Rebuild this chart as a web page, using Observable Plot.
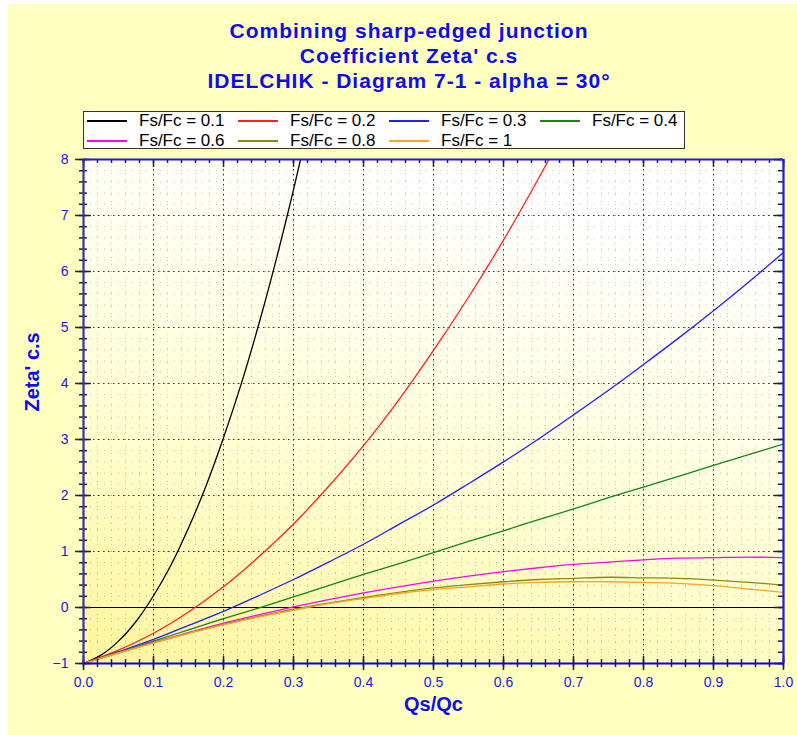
<!DOCTYPE html>
<html>
<head>
<meta charset="utf-8">
<script src="https://cdn.jsdelivr.net/npm/d3@7"></script>
<script src="https://cdn.jsdelivr.net/npm/@observablehq/plot@0.6"></script>
<style>
  body { margin: 0; background: #fff; font-family: "Liberation Sans", Arial, sans-serif; }
  #chart { position: relative; width: 797px; height: 735px; overflow: hidden; }
  #paper { position: absolute; left: 7px; top: 4px; right: 0; bottom: 0; background: #FFFFC0; }
  #plot { position: absolute; left: 0; top: 0; }
  .title { position: absolute; left: 0; width: 818px; text-align: center; font-weight: bold;
           font-size: 21px; letter-spacing: 1px; line-height: 25px; color: #0c0cf4; white-space: nowrap; }
  #legend { position: absolute; left: 83px; top: 111px; width: 600px; height: 36px;
            border: 1.5px solid #333; background: #fff; }
  .item { position: absolute; height: 20px; line-height: 20px; font-size: 17px; color: #000; white-space: nowrap; }
  .item .swatch { position: absolute; left: 0; top: 9px; width: 40px; height: 2px; }
  .item .lab { position: absolute; left: 52px; top: 0; }
</style>
</head>
<body>
<div id="chart">
  <div id="paper"></div>
  <div id="plot"></div>
  <div id="titles"></div>
  <div id="legend"></div>
</div>
<script>
// Idelchik, diagram 7-1: side-branch loss coefficient of a combining junction, alpha = 30°
const titleLines = [
  "Combining sharp-edged junction",
  "Coefficient Zeta' c.s",
  "IDELCHIK - Diagram 7-1 - alpha = 30°"
];
const xLabel = "Qs/Qc";
const yLabel = "Zeta' c.s";

// Flow ratio Qs/Qc at which each curve is sampled
const qs = [0, 0.05, 0.1, 0.15, 0.2, 0.25, 0.3, 0.35, 0.4, 0.45, 0.5,
            0.55, 0.6, 0.65, 0.7, 0.75, 0.8, 0.85, 0.9, 0.95, 1.0];
// finer sampling for the steep Fs/Fc = 0.1 curve
const qsSteep = [0, 0.025, 0.05, 0.075, 0.1, 0.125, 0.15, 0.175, 0.2, 0.225,
                 0.25, 0.275, 0.3, 0.325];

// Zeta' c.s for each area ratio Fs/Fc (steep curves run past the top of the frame)
const zeta01 = [-1, -0.85, -0.60, -0.25, 0.21, 0.76, 1.42, 2.17, 3.03, 3.98,
                5.04, 6.20, 7.46, 8.82];
const zeta02 = [-1, -0.76, -0.46, -0.08, 0.37, 0.90, 1.49, 2.16, 2.89, 3.70, 4.59,
                5.54, 6.56, 7.66, 8.83];
const zeta03 = [-1, -0.79, -0.57, -0.32, -0.07, 0.21, 0.50, 0.81, 1.13, 1.48, 1.83,
                2.21, 2.60, 3.01, 3.44, 3.88, 4.34, 4.81, 5.30, 5.81, 6.34];
const zeta04 = [-1, -0.80, -0.60, -0.40, -0.20, -0.01, 0.19, 0.39, 0.59, 0.78, 0.98,
                1.18, 1.37, 1.57, 1.76, 1.96, 2.15, 2.34, 2.54, 2.73, 2.92];
const zeta06 = [-1, -0.81, -0.62, -0.45, -0.28, -0.13, 0.01, 0.14, 0.26, 0.37, 0.47,
                0.56, 0.64, 0.71, 0.77, 0.81, 0.85, 0.88, 0.89, 0.90, 0.89];
const zeta08 = [-1, -0.81, -0.63, -0.46, -0.30, -0.16, -0.03, 0.08, 0.18, 0.27, 0.35,
                0.41, 0.46, 0.50, 0.52, 0.54, 0.53, 0.52, 0.49, 0.45, 0.40];
const zeta10 = [-1, -0.81, -0.63, -0.46, -0.31, -0.17, -0.05, 0.07, 0.16, 0.25, 0.32,
                0.37, 0.42, 0.45, 0.46, 0.46, 0.45, 0.43, 0.39, 0.33, 0.27];

const ratios = ["Fs/Fc = 0.1", "Fs/Fc = 0.2", "Fs/Fc = 0.3", "Fs/Fc = 0.4",
                "Fs/Fc = 0.6", "Fs/Fc = 0.8", "Fs/Fc = 1"];
const colors = ["#000000", "#ff2020", "#2020ff", "#118811", "#ff00ff", "#8a8a10", "#ffa31a"];
const seriesValues = [zeta01, zeta02, zeta03, zeta04, zeta06, zeta08, zeta10];
const seriesQ = [qsSteep, qs, qs, qs, qs, qs, qs];

// Axis tick values
const xTicks = [0, 0.1, 0.2, 0.3, 0.4, 0.5, 0.6, 0.7, 0.8, 0.9, 1.0];
const yTicks = [-1, 0, 1, 2, 3, 4, 5, 6, 7, 8];
const minorX = d3.range(0, 50 + 1).map(i => i / 50);
const minorY = d3.range(0, 45 + 1).map(i => -1 + i / 5);

// Long-format rows for the line mark
const rows = seriesValues.flatMap((vals, s) =>
  vals.map((v, i) => ({q: seriesQ[s][i], zeta: v, series: ratios[s]})));

// Titles
const titles = document.getElementById("titles");
titleLines.forEach((t, i) => {
  const d = document.createElement("div");
  d.className = "title";
  d.style.top = (18 + i * 25) + "px";
  d.textContent = t;
  titles.appendChild(d);
});

// Legend: 4 columns, 2 rows
const legend = document.getElementById("legend");
ratios.forEach((r, i) => {
  const it = document.createElement("div");
  it.className = "item";
  it.style.left = (3 + (i % 4) * 151) + "px";
  it.style.top = (-1 + Math.floor(i / 4) * 20) + "px";
  it.innerHTML = `<span class="swatch" style="background:${colors[i]}"></span><span class="lab"></span>`;
  it.querySelector(".lab").textContent = r;
  legend.appendChild(it);
});

// Plot-area background gradient
const defs = d3.create("svg:defs");
defs.html(`<linearGradient id="plotBg" x1="0.35" y1="0" x2="0" y2="1">
  <stop offset="0" stop-color="#ffffff"/>
  <stop offset="0.5" stop-color="#ffffd8"/>
  <stop offset="1" stop-color="#fff59c"/>
</linearGradient>`);

const tickColor = "#1e1e3c";
const labelBlue = "#1818f0";

const chart = Plot.plot({
  width: 797,
  height: 735,
  marginLeft: 83,
  marginRight: 14,
  marginTop: 159,
  marginBottom: 72,
  style: {background: "transparent", fontFamily: "Liberation Sans, Arial, sans-serif", overflow: "visible"},
  x: {domain: [0, 1]},
  y: {domain: [-1, 8]},
  color: {domain: ratios, range: colors},
  marks: [
    () => defs.node(),
    Plot.frame({fill: "url(#plotBg)", stroke: "none"}),
    // minor and major dotted grid
    Plot.ruleX(minorX, {stroke: "#8a8a78", strokeDasharray: "1,6", strokeOpacity: 0.5}),
    Plot.ruleY(minorY, {stroke: "#8a8a78", strokeDasharray: "1,6", strokeOpacity: 0.5}),
    Plot.ruleX(xTicks, {stroke: "#333", strokeDasharray: "1.5,3.5"}),
    Plot.ruleY(yTicks, {stroke: "#333", strokeDasharray: "1.5,3.5"}),
    Plot.ruleY([0], {stroke: "#000", strokeWidth: 1.2}),
    // curves
    Plot.line(rows, {x: "q", y: "zeta", z: "series", stroke: "series",
                     curve: "catmull-rom", strokeWidth: 1.3, clip: true}),
    // tick marks: left and bottom cross the axis, right and top point inwards
    Plot.ruleY(yTicks, {x1: 0, x2: 0, insetLeft: -8, insetRight: -8, stroke: tickColor, strokeWidth: 1.5}),
    Plot.ruleY(minorY, {x1: 0, x2: 0, insetLeft: -4, insetRight: -4, stroke: tickColor, strokeWidth: 1.5}),
    Plot.ruleY(yTicks, {x1: 1, x2: 1, insetLeft: -9, insetRight: 0, stroke: tickColor, strokeWidth: 1.5}),
    Plot.ruleY(minorY, {x1: 1, x2: 1, insetLeft: -5, insetRight: 0, stroke: tickColor, strokeWidth: 1.5}),
    Plot.ruleX(xTicks, {y1: -1, y2: -1, insetTop: -7, insetBottom: -7, stroke: tickColor, strokeWidth: 1.5}),
    Plot.ruleX(minorX, {y1: -1, y2: -1, insetTop: -4, insetBottom: -4, stroke: tickColor, strokeWidth: 1.5}),
    Plot.ruleX(xTicks, {y1: 8, y2: 8, insetTop: 0, insetBottom: -8, stroke: tickColor, strokeWidth: 1.5}),
    Plot.ruleX(minorX, {y1: 8, y2: 8, insetTop: 0, insetBottom: -4, stroke: tickColor, strokeWidth: 1.5}),
    // axis lines
    Plot.ruleX([0], {stroke: "#3434a8", strokeWidth: 2.2}),
    Plot.ruleY([-1], {stroke: "#0000ff", strokeWidth: 2.2}),
    Plot.ruleX([1], {stroke: "#1c1ce8", strokeWidth: 2.2}),
    Plot.ruleY([8], {stroke: "#1c1ce8", strokeWidth: 2.2}),
    // tick labels
    Plot.axisX(xTicks, {tickSize: 0, tickPadding: 14, tickFormat: d3.format(".1f"),
                        fill: labelBlue, fontSize: 14, label: null}),
    Plot.axisY(yTicks, {tickSize: 0, tickPadding: 15, tickFormat: d3.format("d"),
                        fill: labelBlue, fontSize: 14, label: null}),
    // axis titles
    Plot.text([xLabel], {text: d => d, frameAnchor: "bottom", dy: 47,
                         fill: "#0c0cf4", fontWeight: "bold", fontSize: 20}),
    Plot.text([yLabel], {text: d => d, frameAnchor: "left", dx: -51, rotate: -90,
                         fill: "#0c0cf4", fontWeight: "bold", fontSize: 20})
  ]
});
document.getElementById("plot").appendChild(chart);
</script>
</body>
</html>
